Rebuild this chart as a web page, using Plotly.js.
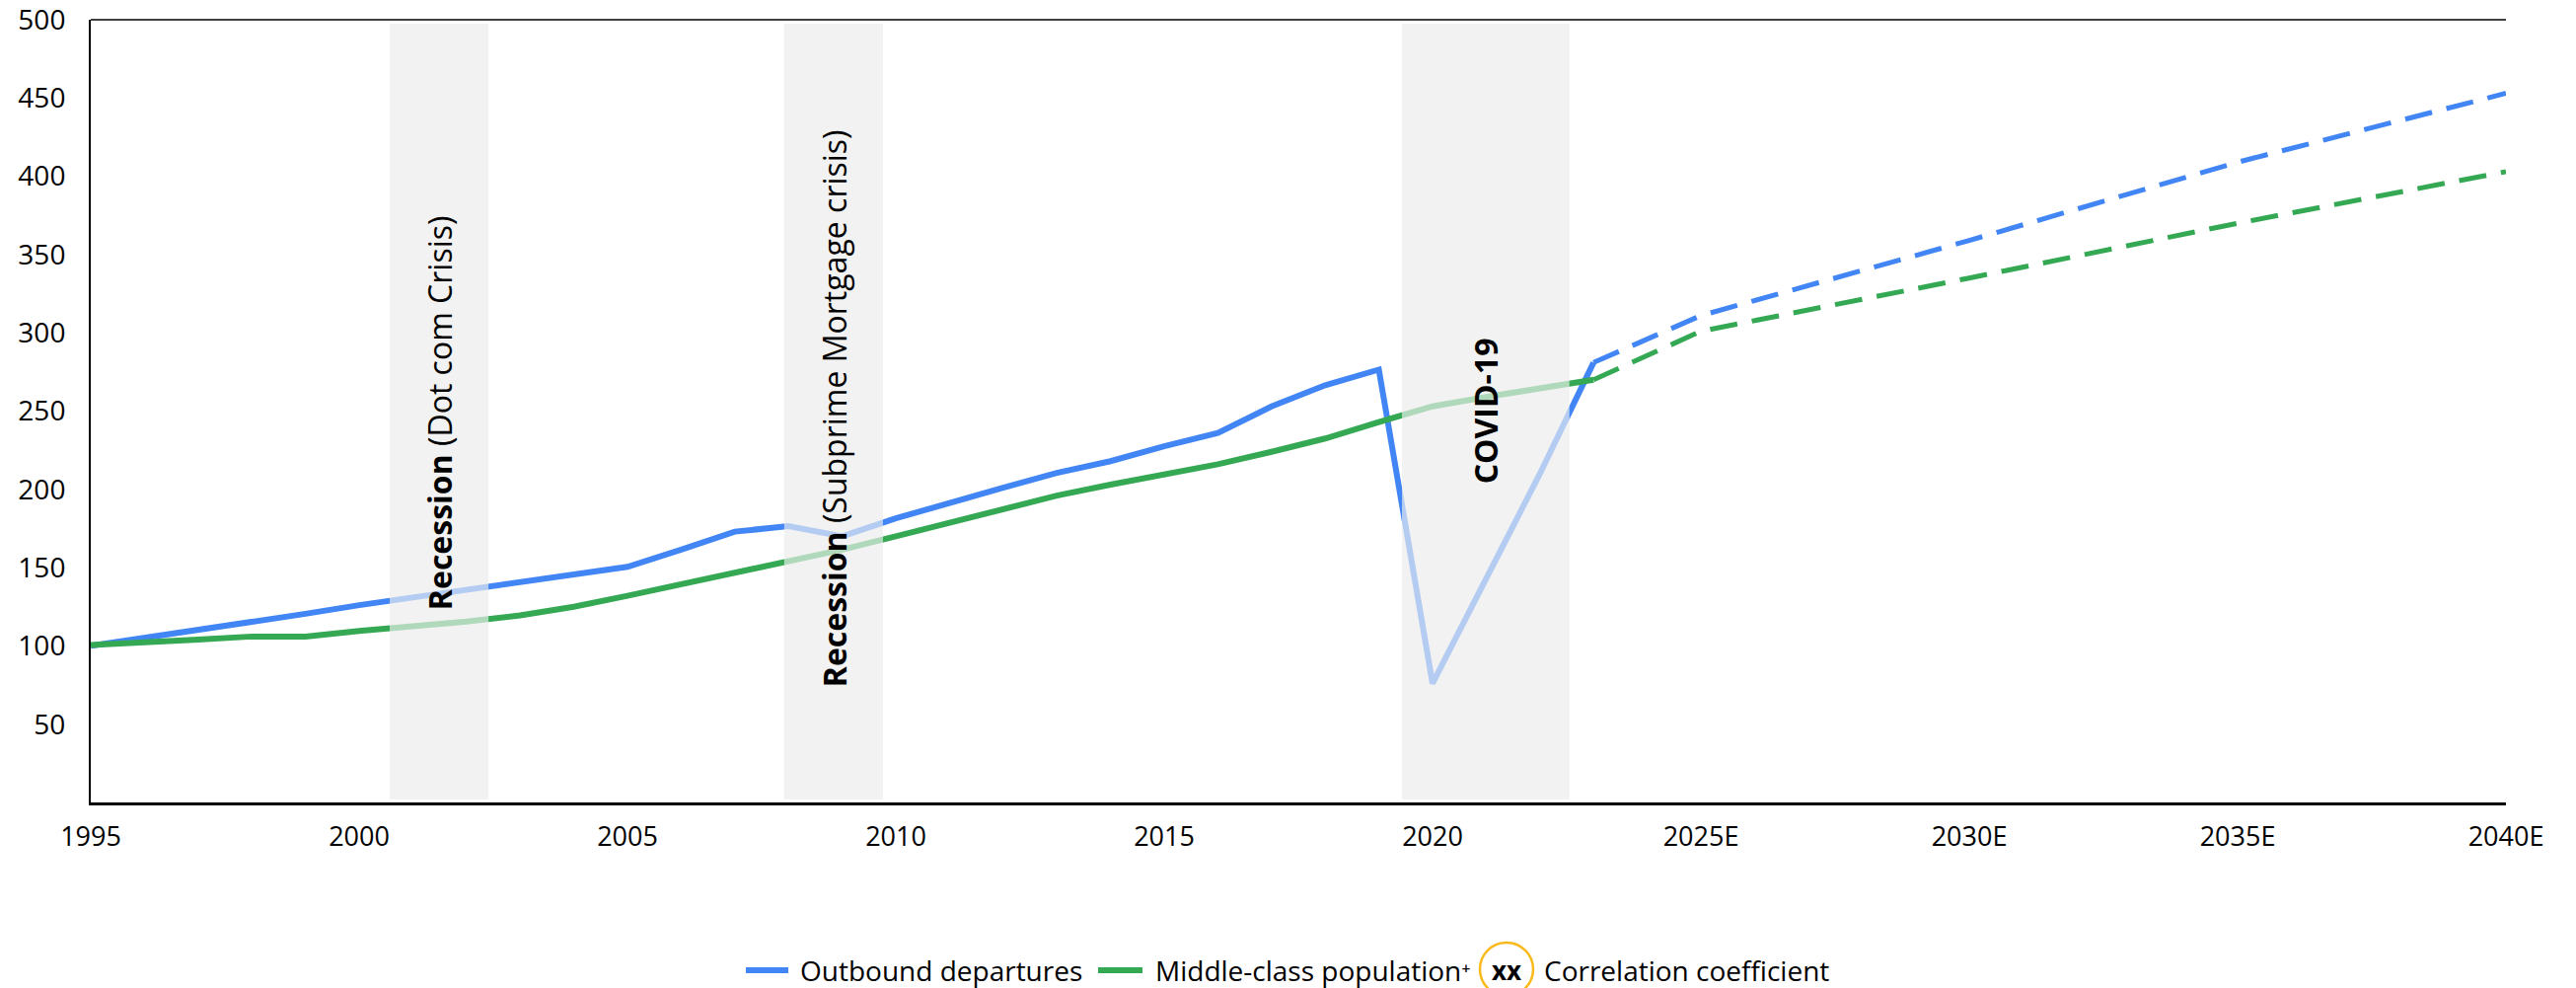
<!DOCTYPE html>
<html>
<head>
<meta charset="utf-8">
<script src="https://cdn.plot.ly/plotly-3.0.1.min.js"></script>
<style>
  html, body { margin: 0; padding: 0; background: #ffffff; }
  #chart { width: 2611px; height: 1001px; }
</style>
</head>
<body>
<div id="chart"></div>
<script>
// Index (1995 = 100), historical annual series
const years = [1995, 1996, 1997, 1998, 1999, 2000, 2001, 2002, 2003, 2004,
               2005, 2006, 2007, 2008, 2009, 2010, 2011, 2012, 2013, 2014,
               2015, 2016, 2017, 2018, 2019, 2020, 2021, 2022, 2023];
const departures = [100, 105, 110, 115.5, 120.5, 126, 131, 136, 141, 146,
                    150.5, 161.5, 173, 176.5, 170, 181.5, 191.5, 201, 210.5, 218,
                    227.5, 236, 253, 266.5, 276.5, 76, 143, 210, 281];
const middleClass = [100.5, 102, 104, 106, 106, 109.5, 112.5, 115.5, 119.5, 125,
                     132, 139.5, 147, 154.5, 161.5, 170, 178.5, 187, 196, 203,
                     209.5, 216, 224, 232.5, 243, 253, 259, 264.5, 270];

// Projections
const forecastYears = [2023, 2025, 2030, 2035, 2040];
const departuresForecast = [281, 311, 359, 409, 453];
const middleClassForecast = [270, 301, 335, 370, 403];

// Axis ticks
const tickYears = [1995, 2000, 2005, 2010, 2015, 2020, 2025, 2030, 2035, 2040];
const tickLabels = ['1995', '2000', '2005', '2010', '2015', '2020', '2025E', '2030E', '2035E', '2040E'];
const yTicks = [50, 100, 150, 200, 250, 300, 350, 400, 450, 500];

// Crisis periods
const bandStarts = [2000.57, 2007.92, 2019.43];
const bandEnds = [2002.41, 2009.76, 2022.55];
const bandLabels = ['<b>Recession</b> (Dot com Crisis)',
                    '<b>Recession</b> (Subprime Mortgage crisis)',
                    '<b>COVID-19</b>'];
const bandLabelY = [249, 252, 250];

// Key entries
const seriesNames = ['Outbound departures', 'Middle-class population⁺'];
const correlationMark = 'xx';
const correlationLabel = 'Correlation coefficient';

const BLUE = '#4285F4';
const GREEN = '#34A853';
const BAND = '#f2f2f2';
const FONT = 'Open Sans, Noto Sans, sans-serif';

// plot box in pixels, used to place the key below the axis
const W = 2611, H = 1001;
const M = { l: 92, r: 71, t: 20, b: 188 };
const plotW = W - M.l - M.r, plotH = H - M.t - M.b;
const px = (x) => (x - M.l) / plotW;
const py = (y) => (H - M.b - y) / plotH;

const traces = [
  {
    x: years, y: departures, type: 'scatter', mode: 'lines',
    name: seriesNames[0], showlegend: false,
    line: { color: BLUE, width: 6 }
  },
  {
    x: forecastYears, y: departuresForecast, type: 'scatter', mode: 'lines',
    name: seriesNames[0], showlegend: false,
    line: { color: BLUE, width: 5, dash: '28px,15px' }
  },
  {
    x: years, y: middleClass, type: 'scatter', mode: 'lines',
    name: seriesNames[1], showlegend: false,
    line: { color: GREEN, width: 6 }
  },
  {
    x: forecastYears, y: middleClassForecast, type: 'scatter', mode: 'lines',
    name: seriesNames[1], showlegend: false,
    line: { color: GREEN, width: 5, dash: '28px,15px' }
  }
];

const shapes = [];
const annotations = [];
bandStarts.forEach((start, i) => {
  // grey period band behind the lines
  shapes.push({
    type: 'rect', xref: 'x', yref: 'y', layer: 'below',
    x0: start, x1: bandEnds[i], y0: 2, y1: 497.5,
    fillcolor: BAND, line: { width: 0 }
  });
  // translucent veil that lightens the lines inside the period
  shapes.push({
    type: 'rect', xref: 'x', yref: 'y', layer: 'above',
    x0: start, x1: bandEnds[i], y0: 2, y1: 497.5,
    fillcolor: BAND, opacity: 0.66, line: { width: 0 }
  });
  annotations.push({
    x: (start + bandEnds[i]) / 2, y: bandLabelY[i], xref: 'x', yref: 'y',
    text: bandLabels[i], textangle: -90, showarrow: false,
    xanchor: 'center', yanchor: 'middle',
    font: { family: FONT, size: 32, color: '#000000' }
  });
});

// top frame line
shapes.push({
  type: 'line', xref: 'paper', yref: 'paper', x0: 0, x1: 1, y0: 1, y1: 1,
  line: { color: '#000000', width: 1.5 }
});

// key: two series swatches with their names
const keyY = 983;
const swatches = [[756, 799, BLUE], [1113, 1158, GREEN]];
const keyTextX = [809, 1169];
swatches.forEach((s, i) => {
  shapes.push({
    type: 'line', xref: 'paper', yref: 'paper',
    x0: px(s[0]), x1: px(s[1]), y0: py(keyY), y1: py(keyY),
    line: { color: s[2], width: 6 }
  });
  annotations.push({
    x: px(keyTextX[i]), y: py(keyY), xref: 'paper', yref: 'paper',
    text: seriesNames[i], showarrow: false, xanchor: 'left', yanchor: 'middle',
    font: { family: FONT, size: 28, color: '#000000' }
  });
});

// key: correlation coefficient marker
shapes.push({
  type: 'circle', xref: 'paper', yref: 'paper',
  x0: px(1500), x1: px(1554), y0: py(1009), y1: py(955),
  line: { color: '#F9B91B', width: 2.5 }, fillcolor: 'rgba(0,0,0,0)'
});
annotations.push({
  x: px(1527), y: py(983), xref: 'paper', yref: 'paper',
  text: '<b>' + correlationMark + '</b>', showarrow: false,
  xanchor: 'center', yanchor: 'middle',
  font: { family: FONT, size: 26, color: '#000000' }
});
annotations.push({
  x: px(1563), y: py(keyY), xref: 'paper', yref: 'paper',
  text: correlationLabel, showarrow: false, xanchor: 'left', yanchor: 'middle',
  font: { family: FONT, size: 28, color: '#000000' }
});

const layout = {
  width: W, height: H,
  margin: { l: M.l, r: M.r, t: M.t, b: M.b, autoexpand: false },
  paper_bgcolor: '#ffffff', plot_bgcolor: '#ffffff',
  showlegend: false,
  xaxis: {
    range: [1995, 2040], showgrid: false, zeroline: false,
    showline: true, linecolor: '#000000', linewidth: 2.5,
    tickmode: 'array', tickvals: tickYears, ticktext: tickLabels,
    ticks: '', ticklabelstandoff: 9,
    tickfont: { family: FONT, size: 27, color: '#000000' }
  },
  yaxis: {
    range: [0, 500], showgrid: false, zeroline: false,
    showline: true, linecolor: '#000000', linewidth: 2,
    tickmode: 'array', tickvals: yTicks,
    ticks: '', ticklabelstandoff: 18, ticklabeloverflow: 'allow',
    tickfont: { family: FONT, size: 28, color: '#000000' }
  },
  shapes: shapes,
  annotations: annotations
};

Plotly.newPlot('chart', traces, layout, { displayModeBar: false, staticPlot: true });
</script>
</body>
</html>
